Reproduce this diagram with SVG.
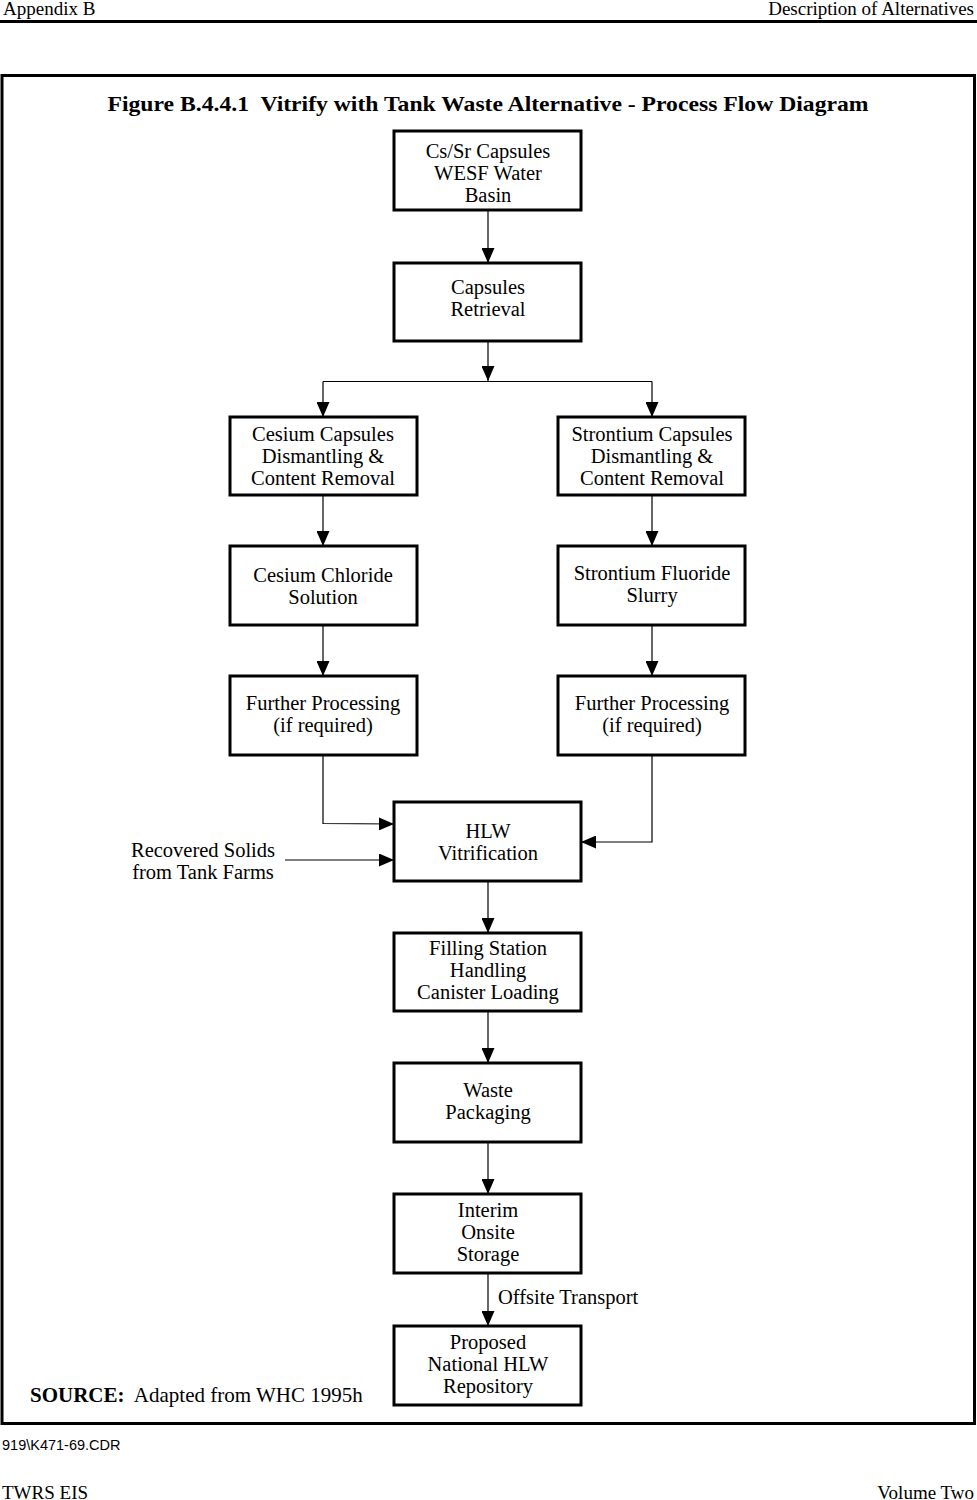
<svg xmlns="http://www.w3.org/2000/svg" width="977" height="1500" viewBox="0 0 977 1500">
<style>
text{font-family:"Liberation Serif","Times New Roman",serif;fill:#000}
.t{font-size:20.5px;text-anchor:middle}
.box{fill:#fff;stroke:#000;stroke-width:3}
.ln{fill:none;stroke:#000;stroke-width:1.2}
.hd{font-size:19px}
</style>
<defs>
<marker id="ah" markerUnits="userSpaceOnUse" markerWidth="15" markerHeight="13" viewBox="0 0 15 13" refX="15" refY="6.5" orient="auto">
<path d="M0,0 L15,6.5 L0,13 Z" fill="#000"/>
</marker>
</defs>
<rect width="977" height="1500" fill="#fff"/>
<g id="header">
<text class="hd" x="3" y="15">Appendix B</text>
<text class="hd" x="974" y="15" text-anchor="end">Description of Alternatives</text>
<line x1="0" y1="21.5" x2="977" y2="21.5" stroke="#000" stroke-width="3"/>
</g>
<rect x="2" y="75.5" width="972.5" height="1348" fill="none" stroke="#000" stroke-width="3"/>
<text x="488" y="111" font-size="21" font-weight="bold" text-anchor="middle" textLength="761" lengthAdjust="spacingAndGlyphs" xml:space="preserve">Figure B.4.4.1  Vitrify with Tank Waste Alternative - Process Flow Diagram</text>
<g id="connectors">
<line class="ln" x1="488" y1="210" x2="488" y2="263" marker-end="url(#ah)"/>
<line class="ln" x1="488" y1="341" x2="488" y2="381" marker-end="url(#ah)"/>
<polyline class="ln" points="323,381.5 652,381.5"/>
<line class="ln" x1="323" y1="381.5" x2="323" y2="417" marker-end="url(#ah)"/>
<line class="ln" x1="652" y1="381.5" x2="652" y2="417" marker-end="url(#ah)"/>
<line class="ln" x1="323" y1="495" x2="323" y2="546" marker-end="url(#ah)"/>
<line class="ln" x1="652" y1="495" x2="652" y2="546" marker-end="url(#ah)"/>
<line class="ln" x1="323" y1="625" x2="323" y2="676" marker-end="url(#ah)"/>
<line class="ln" x1="652" y1="625" x2="652" y2="676" marker-end="url(#ah)"/>
<polyline class="ln" points="323,755 323,823.5 394,824" marker-end="url(#ah)"/>
<polyline class="ln" points="652,755 652,842 581,842" marker-end="url(#ah)"/>
<line class="ln" x1="285" y1="860" x2="394" y2="860" marker-end="url(#ah)"/>
<line class="ln" x1="488" y1="881" x2="488" y2="933" marker-end="url(#ah)"/>
<line class="ln" x1="488" y1="1011" x2="488" y2="1063" marker-end="url(#ah)"/>
<line class="ln" x1="488" y1="1142" x2="488" y2="1194" marker-end="url(#ah)"/>
<line class="ln" x1="488" y1="1273" x2="488" y2="1326" marker-end="url(#ah)"/>
<text x="498" y="1304" font-size="20.5">Offsite Transport</text>
<text class="t" x="203" y="857">Recovered Solids</text>
<text class="t" x="203" y="879">from Tank Farms</text>
</g>
<g id="n1"><rect class="box" x="394" y="131" width="187" height="79"/>
<text class="t" x="488" y="158">Cs/Sr Capsules</text><text class="t" x="488" y="180">WESF Water</text><text class="t" x="488" y="202">Basin</text></g>
<g id="n2"><rect class="box" x="394" y="263" width="187" height="78"/>
<text class="t" x="488" y="294">Capsules</text><text class="t" x="488" y="316">Retrieval</text></g>
<g id="n3"><rect class="box" x="230" y="417" width="187" height="78"/>
<text class="t" x="323" y="441">Cesium Capsules</text><text class="t" x="323" y="463">Dismantling &amp;</text><text class="t" x="323" y="485">Content Removal</text></g>
<g id="n4"><rect class="box" x="558" y="417" width="187" height="78"/>
<text class="t" x="652" y="441">Strontium Capsules</text><text class="t" x="652" y="463">Dismantling &amp;</text><text class="t" x="652" y="485">Content Removal</text></g>
<g id="n5"><rect class="box" x="230" y="546" width="187" height="79"/>
<text class="t" x="323" y="582">Cesium Chloride</text><text class="t" x="323" y="604">Solution</text></g>
<g id="n6"><rect class="box" x="558" y="546" width="187" height="79"/>
<text class="t" x="652" y="580">Strontium Fluoride</text><text class="t" x="652" y="602">Slurry</text></g>
<g id="n7"><rect class="box" x="230" y="676" width="187" height="79"/>
<text class="t" x="323" y="710">Further Processing</text><text class="t" x="323" y="732">(if required)</text></g>
<g id="n8"><rect class="box" x="558" y="676" width="187" height="79"/>
<text class="t" x="652" y="710">Further Processing</text><text class="t" x="652" y="732">(if required)</text></g>
<g id="n9"><rect class="box" x="394" y="802" width="187" height="79"/>
<text class="t" x="488" y="838">HLW</text><text class="t" x="488" y="860">Vitrification</text></g>
<g id="n10"><rect class="box" x="394" y="933" width="187" height="78"/>
<text class="t" x="488" y="955">Filling Station</text><text class="t" x="488" y="977">Handling</text><text class="t" x="488" y="999">Canister Loading</text></g>
<g id="n11"><rect class="box" x="394" y="1063" width="187" height="79"/>
<text class="t" x="488" y="1097">Waste</text><text class="t" x="488" y="1119">Packaging</text></g>
<g id="n12"><rect class="box" x="394" y="1194" width="187" height="79"/>
<text class="t" x="488" y="1217">Interim</text><text class="t" x="488" y="1239">Onsite</text><text class="t" x="488" y="1261">Storage</text></g>
<g id="n13"><rect class="box" x="394" y="1326" width="187" height="79"/>
<text class="t" x="488" y="1349">Proposed</text><text class="t" x="488" y="1371">National HLW</text><text class="t" x="488" y="1393">Repository</text></g>
<g id="footer">
<text x="30" y="1402" font-size="21" xml:space="preserve"><tspan font-weight="bold">SOURCE:</tspan>  Adapted from WHC 1995h</text>
<text x="2" y="1450" font-size="14.5" style="font-family:'Liberation Sans',Arial,sans-serif">919\K471-69.CDR</text>
<text class="hd" x="2" y="1499">TWRS EIS</text>
<text class="hd" x="974" y="1499" text-anchor="end">Volume Two</text>
</g>
</svg>
